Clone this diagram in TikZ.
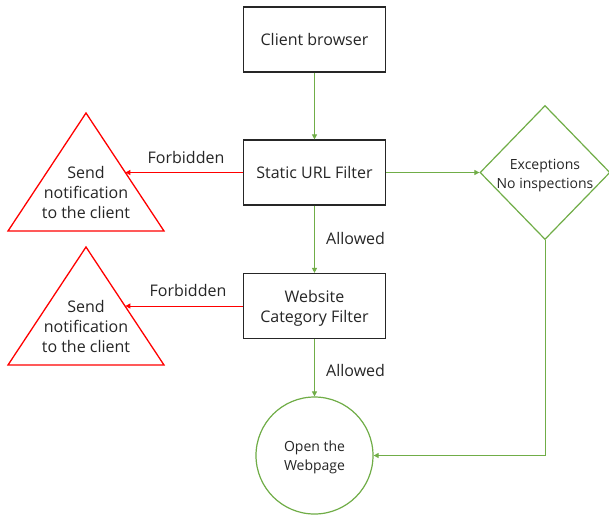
\documentclass[tikz,border=0pt]{standalone}
\usepackage{fontspec}
\setmainfont{Open Sans}
\usetikzlibrary{shapes.geometric,arrows.meta}
\definecolor{grn}{HTML}{70AD47}
\definecolor{txt}{HTML}{262626}
\begin{document}
\begin{tikzpicture}[x=1pt,y=-1pt,
  procbox/.style={draw=black!85, line width=1.2pt, minimum width=142pt, minimum height=65pt, inner sep=0pt, align=center, font=\fontsize{16}{21}\selectfont, text=txt},
  tri/.style={draw=red, line width=1.3pt, line join=miter},
  tritext/.style={align=center, font=\fontsize{16}{20}\selectfont, text=txt},
  dia/.style={draw=grn, line width=1.2pt, shape=diamond, minimum width=130pt, minimum height=134pt, inner sep=0pt},
  circ/.style={draw=grn, line width=1.2pt, shape=circle, minimum size=117pt, inner sep=0pt},
  smalltext/.style={align=center, inner sep=0pt, font=\fontsize{14}{19}\selectfont, text=txt},
  garrow/.style={draw=grn, line width=1pt, -{Triangle[length=5pt,width=5pt]}},
  rarrow/.style={draw=red, line width=1pt, -{Triangle[length=5pt,width=5pt]}},
  lbl/.style={font=\fontsize{16}{20}\selectfont, text=txt, inner sep=0pt}
]
\useasboundingbox (0,0) rectangle (609,515);
\fill[white] (0,0) rectangle (609,515);

\node[procbox] (client) at (314.5,39.5) {Client browser};
\node[procbox] (static) at (314.5,172.5) {Static URL Filter};
\node[procbox] (web) at (314.5,306) {};
\node[tritext] (webtext) at (314.5,308.5) {Website\\Category Filter};
\node[dia] (exc) at (545,172.5) {};
\node[smalltext] (exctext) at (545,175.5) {Exceptions\\No inspections};
\node[circ] (open) at (314.5,455.5) {};
\node[smalltext] (opentext) at (314.5,457.5) {Open the\\Webpage};

% triangles
\coordinate (t1a) at (86,113);
\coordinate (t1l) at (8,231);
\coordinate (t1r) at (164,231);
\draw[tri] (t1a) -- (t1r) -- (t1l) -- cycle;
\node[tritext] (t1) at (86,192) {Send\\notification\\to the client};
\coordinate (t1e) at (125.4,172.5);

\coordinate (t2a) at (86,247);
\coordinate (t2l) at (8,365);
\coordinate (t2r) at (164,365);
\draw[tri] (t2a) -- (t2r) -- (t2l) -- cycle;
\node[tritext] (t2) at (86,326) {Send\\notification\\to the client};
\coordinate (t2e) at (125.4,306);

% connectors
\draw[garrow] (client) -- (static);
\draw[garrow] (static) -- (web);
\draw[garrow] (web) -- (open);
\draw[garrow] (static) -- (exc);
\draw[garrow] (exc.south) |- (open.east);
\draw[rarrow] (static.west) -- (t1e);
\draw[rarrow] (web.west) -- (t2e);
\node[lbl, anchor=west] (al1) at (326,238) {Allowed};
\node[lbl, anchor=west] (al2) at (326,370) {Allowed};
\node[lbl] (fb1) at (186,157) {Forbidden};
\node[lbl] (fb2) at (188,290) {Forbidden};
\end{tikzpicture}
\end{document}
